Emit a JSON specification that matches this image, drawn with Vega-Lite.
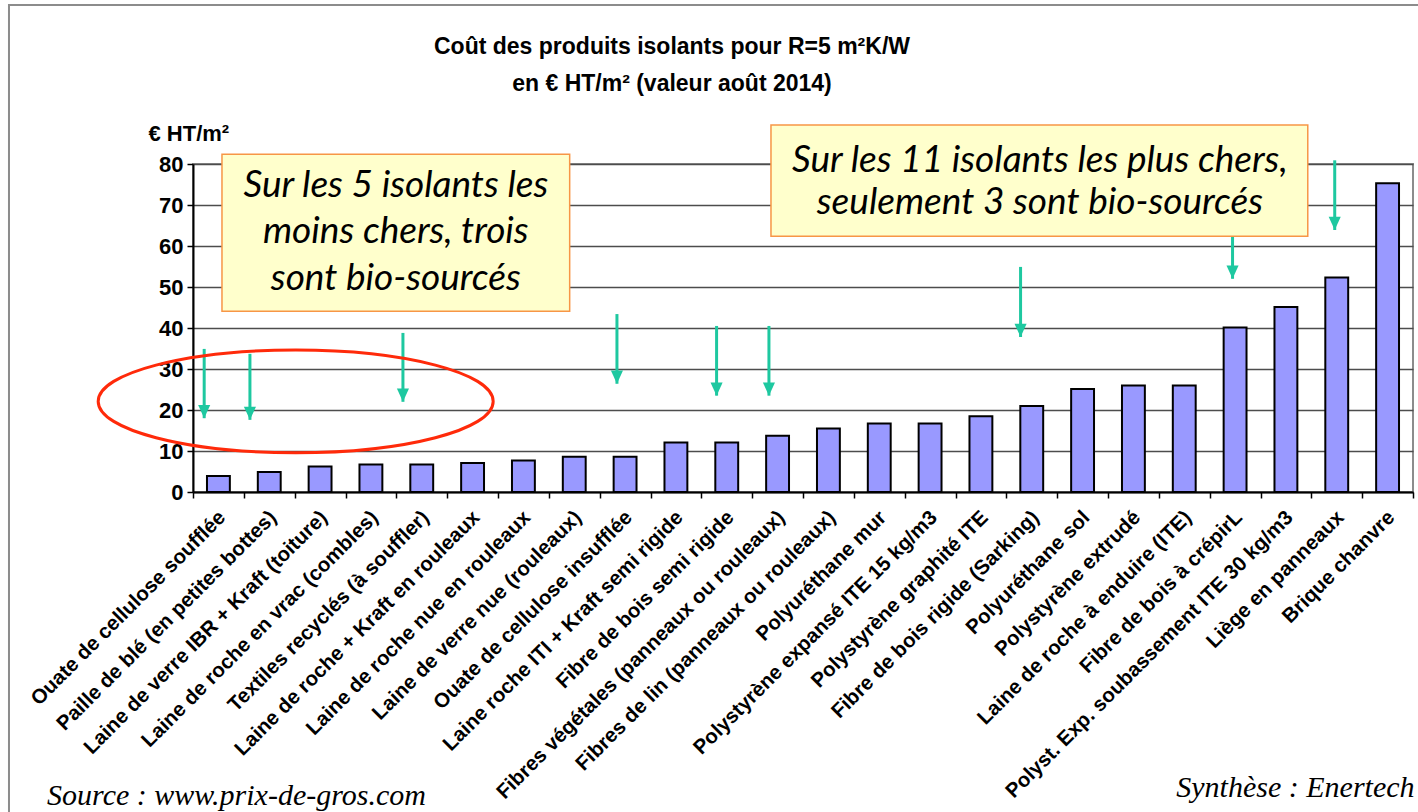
{
  "$schema": "https://vega.github.io/schema/vega-lite/v6.json",
  "width": 1220,
  "height": 328,
  "autosize": {"type": "none"},
  "padding": {"left": 193, "top": 164, "right": 5, "bottom": 320},
  "background": "white",
  "title": {
    "text": ["Coût des produits isolants pour R=5 m²K/W", "en € HT/m² (valeur août 2014)"],
    "font": "Liberation Sans",
    "fontSize": 23,
    "fontWeight": "bold",
    "color": "black",
    "anchor": "middle",
    "frame": "group",
    "dx": -131,
    "dy": 142,
    "offset": 27,
    "lineHeight": 37,
    "baseline": "bottom"
  },
  "config": {
    "view": {"stroke": "#8c8c8c", "strokeWidth": 2},
    "font": "Liberation Sans"
  },
  "datasets": {
    "bars": [
      {"isolant": "Ouate de cellulose soufflée", "cout": 3.9},
      {"isolant": "Paille de blé (en petites bottes)", "cout": 4.9},
      {"isolant": "Laine de verre IBR + Kraft (toiture)", "cout": 6.2},
      {"isolant": "Laine de roche en vrac (combles)", "cout": 6.7},
      {"isolant": "Textiles recyclés (à souffler)", "cout": 6.7},
      {"isolant": "Laine de roche + Kraft en rouleaux", "cout": 7.1},
      {"isolant": "Laine de roche nue en rouleaux", "cout": 7.7},
      {"isolant": "Laine de verre nue (rouleaux)", "cout": 8.6},
      {"isolant": "Ouate de cellulose insufflée", "cout": 8.6},
      {"isolant": "Laine roche ITI + Kraft semi rigide", "cout": 12.1},
      {"isolant": "Fibre de bois semi rigide", "cout": 12.1},
      {"isolant": "Fibres végétales (panneaux ou rouleaux)", "cout": 13.7},
      {"isolant": "Fibres de lin (panneaux ou rouleaux)", "cout": 15.5},
      {"isolant": "Polyuréthane mur", "cout": 16.7},
      {"isolant": "Polystyrène expansé ITE 15 kg/m3", "cout": 16.7},
      {"isolant": "Polystyrène graphité ITE", "cout": 18.5},
      {"isolant": "Fibre de bois rigide (Sarking)", "cout": 21.0},
      {"isolant": "Polyuréthane sol", "cout": 25.1},
      {"isolant": "Polystyrène extrudé", "cout": 26.0},
      {"isolant": "Laine de roche à enduire (ITE)", "cout": 26.0},
      {"isolant": "Fibre de bois à crépirL", "cout": 40.1},
      {"isolant": "Polyst. Exp. soubassement ITE 30 kg/m3", "cout": 45.1},
      {"isolant": "Liège en panneaux", "cout": 52.3},
      {"isolant": "Brique chanvre", "cout": 75.3}
    ],
    "frame": [
      {"x1": -3.62, "x2": 30, "y1": 118.8, "y2": -120}
    ],
    "arrows": [
      {"slot": 0.22, "top": 34.9, "tip": 18.0},
      {"slot": 1.12, "top": 33.7, "tip": 17.6},
      {"slot": 4.13, "top": 38.8, "tip": 22.0},
      {"slot": 8.34, "top": 43.4, "tip": 26.4},
      {"slot": 10.3, "top": 40.5, "tip": 23.5},
      {"slot": 11.33, "top": 40.5, "tip": 23.5},
      {"slot": 16.28, "top": 54.9, "tip": 37.8},
      {"slot": 20.45, "top": 68.0, "tip": 52.0},
      {"slot": 22.46, "top": 80.9, "tip": 63.9}
    ],
    "ellipse": [
      {"slot": 2.02, "v": 22.1}
    ],
    "boxes": [
      {"x1": 0.57, "x2": 7.41, "y1": 44.1, "y2": 82.4},
      {"x1": 11.37, "x2": 21.93, "y1": 62.4, "y2": 89.5}
    ],
    "boxtext": [
      {"slot": 3.99, "v": 71.95, "txt": "Sur les 5 isolants les"},
      {"slot": 3.99, "v": 60.73, "txt": "moins chers, trois"},
      {"slot": 3.99, "v": 49.27, "txt": "sont bio-sourcés"},
      {"slot": 16.66, "v": 78.05, "txt": "Sur les 11 isolants les plus chers,"},
      {"slot": 16.66, "v": 67.8, "txt": "seulement 3 sont bio-sourcés"}
    ],
    "sourceL": [
      {"slot": -2.87, "v": -76.3, "txt": "Source : www.prix-de-gros.com"}
    ],
    "sourceR": [
      {"slot": 24.03, "v": -74.4, "txt": "Synthèse : Enertech"}
    ]
  },
  "resolve": {"scale": {"x": "independent"}, "axis": {"x": "independent"}},
  "layer": [
    {
      "data": {"name": "frame"},
      "mark": {"type": "rect", "fill": null, "stroke": "#8c8c8c", "strokeWidth": 2},
      "encoding": {
        "x": {"field": "x1", "type": "quantitative", "scale": {"domain": [0, 24], "nice": false, "zero": false}, "axis": null},
        "x2": {"field": "x2"},
        "y": {"field": "y1", "type": "quantitative", "scale": {"domain": [0, 80], "nice": false}},
        "y2": {"field": "y2"}
      }
    },
    {
      "data": {"name": "bars"},
      "mark": {"type": "bar", "fill": "#9999ff", "stroke": "black", "strokeWidth": 2},
      "encoding": {
        "x": {
          "field": "isolant", "type": "nominal", "sort": null,
          "scale": {"paddingInner": 0.55, "paddingOuter": 0.275},
          "axis": {
            "orient": "bottom", "title": null, "labelAngle": -45, "labelAlign": "right", "labelBaseline": "middle",
            "labelFont": "Liberation Sans", "labelFontSize": 20.5, "labelFontWeight": "bold", "labelColor": "black",
            "labelPadding": 22, "labelOffset": 4, "labelLimit": 1000, "labelOverlap": false, "labelBound": false,
            "ticks": false, "domain": true, "domainColor": "black", "domainWidth": 2, "grid": false
          }
        },
        "y": {
          "field": "cout", "type": "quantitative",
          "scale": {"domain": [0, 80], "nice": false},
          "axis": {
            "values": [0, 10, 20, 30, 40, 50, 60, 70, 80],
            "title": "€ HT/m²", "titleAngle": 0, "titleAlign": "left", "titleBaseline": "alphabetic",
            "titleX": -45, "titleY": -24, "titleFont": "Liberation Sans", "titleFontSize": 22, "titleFontWeight": "bold", "titleColor": "black",
            "labelFont": "Liberation Sans", "labelFontSize": 22, "labelFontWeight": "bold", "labelColor": "black", "labelPadding": 4,
            "domainColor": "black", "domainWidth": 2, "tickColor": "black", "tickSize": 6, "tickWidth": 1.5,
            "grid": true, "gridColor": "#4d4d4d", "gridWidth": 1.5
          }
        }
      }
    },
    {
      "data": {"name": "arrows"},
      "mark": {"type": "rule", "color": "#1ec8a0", "strokeWidth": 3},
      "encoding": {
        "x": {"field": "slot", "type": "quantitative", "scale": {"domain": [0, 24], "nice": false, "zero": false}, "axis": null},
        "y": {"field": "top", "type": "quantitative", "scale": {"domain": [0, 80], "nice": false}},
        "y2": {"field": "tip"}
      }
    },
    {
      "data": {"name": "arrows"},
      "mark": {"type": "point", "shape": "M -0.55 -1.2 L 0.55 -1.2 L 0 0 Z", "size": 484, "filled": true, "color": "#1ec8a0", "opacity": 1},
      "encoding": {
        "x": {"field": "slot", "type": "quantitative", "scale": {"domain": [0, 24], "nice": false, "zero": false}, "axis": null},
        "y": {"field": "tip", "type": "quantitative", "scale": {"domain": [0, 80], "nice": false}}
      }
    },
    {
      "data": {"name": "ellipse"},
      "mark": {"type": "point", "shape": "M -1 0 A 1 0.26 0 1 1 1 0 A 1 0.26 0 1 1 -1 0 Z", "size": 156025, "filled": false, "stroke": "#ff2a0a", "strokeWidth": 3, "opacity": 1},
      "encoding": {
        "x": {"field": "slot", "type": "quantitative", "scale": {"domain": [0, 24], "nice": false, "zero": false}, "axis": null},
        "y": {"field": "v", "type": "quantitative", "scale": {"domain": [0, 80], "nice": false}}
      }
    },
    {
      "data": {"name": "boxes"},
      "mark": {"type": "rect", "fill": "#ffffcc", "stroke": "#f79646", "strokeWidth": 1.5},
      "encoding": {
        "x": {"field": "x1", "type": "quantitative", "scale": {"domain": [0, 24], "nice": false, "zero": false}, "axis": null},
        "x2": {"field": "x2"},
        "y": {"field": "y1", "type": "quantitative", "scale": {"domain": [0, 80], "nice": false}},
        "y2": {"field": "y2"}
      }
    },
    {
      "data": {"name": "boxtext"},
      "mark": {"type": "text", "font": "Lato", "fontStyle": "italic", "fontSize": 37, "color": "black", "align": "center", "baseline": "alphabetic"},
      "encoding": {
        "x": {"field": "slot", "type": "quantitative", "scale": {"domain": [0, 24], "nice": false, "zero": false}, "axis": null},
        "y": {"field": "v", "type": "quantitative", "scale": {"domain": [0, 80], "nice": false}},
        "text": {"field": "txt", "type": "nominal"}
      }
    },
    {
      "data": {"name": "sourceL"},
      "mark": {"type": "text", "font": "Liberation Serif", "fontStyle": "italic", "fontSize": 30, "color": "black", "align": "left", "baseline": "alphabetic"},
      "encoding": {
        "x": {"field": "slot", "type": "quantitative", "scale": {"domain": [0, 24], "nice": false, "zero": false}, "axis": null},
        "y": {"field": "v", "type": "quantitative", "scale": {"domain": [0, 80], "nice": false}},
        "text": {"field": "txt", "type": "nominal"}
      }
    },
    {
      "data": {"name": "sourceR"},
      "mark": {"type": "text", "font": "Liberation Serif", "fontStyle": "italic", "fontSize": 30, "color": "black", "align": "right", "baseline": "alphabetic"},
      "encoding": {
        "x": {
          "field": "slot", "type": "quantitative", "scale": {"domain": [0, 24], "nice": false, "zero": false},
          "axis": {"orient": "bottom", "values": [0, 1, 2, 3, 4, 5, 6, 7, 8, 9, 10, 11, 12, 13, 14, 15, 16, 17, 18, 19, 20, 21, 22, 23, 24],
                   "labels": false, "domain": false, "grid": false, "ticks": true, "tickSize": 6, "tickColor": "black", "tickWidth": 1.5, "title": null}
        },
        "y": {"field": "v", "type": "quantitative", "scale": {"domain": [0, 80], "nice": false}},
        "text": {"field": "txt", "type": "nominal"}
      }
    }
  ]
}
